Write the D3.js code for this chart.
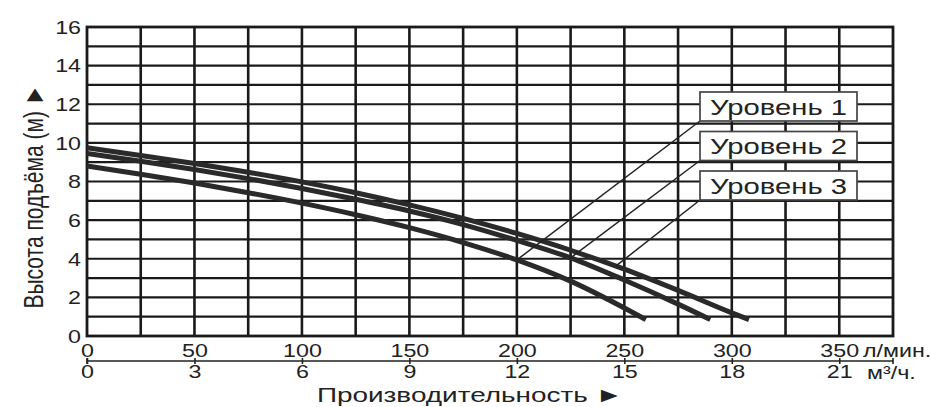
<!DOCTYPE html>
<html>
<head>
<meta charset="utf-8">
<script src="https://cdn.jsdelivr.net/npm/d3@7"></script>
<style>
  body { margin: 0; background: #fff; }
  text { font-family: "Liberation Sans", Arial, sans-serif; fill: #222; }
</style>
</head>
<body>
<script>
// pump curves: flow in l/min, head in m
var flow1 = [0, 25, 50, 75, 100, 125, 150, 175, 200, 225, 250, 260];
var head1 = [8.8, 8.38, 7.92, 7.42, 6.88, 6.28, 5.61, 4.84, 3.94, 2.84, 1.45, 0.85];
var flow2 = [0, 25, 50, 75, 100, 125, 150, 175, 200, 225, 250, 275, 290];
var head2 = [9.45, 9.05, 8.62, 8.15, 7.64, 7.08, 6.47, 5.77, 4.95, 4.05, 2.9, 1.65, 0.85];
var flow3 = [0, 25, 50, 75, 100, 125, 150, 175, 200, 225, 250, 275, 300, 308];
var head3 = [9.75, 9.35, 8.93, 8.48, 7.98, 7.42, 6.79, 6.09, 5.31, 4.44, 3.46, 2.36, 1.2, 0.85];

var levelNames = ["Уровень 1", "Уровень 2", "Уровень 3"];
var leaderFlow = [200, 225, 246];   // where each label's leader meets its curve

var headTicks = [0, 2, 4, 6, 8, 10, 12, 14, 16];
var lpmTicks = [0, 50, 100, 150, 200, 250, 300, 350];
var m3hTicks = [0, 3, 6, 9, 12, 15, 18, 21];

var W = 931, H = 407;
var margin = {left: 87, top: 27, right: 38, bottom: 71};
var width = W - margin.left - margin.right,
    height = H - margin.top - margin.bottom;
var SX = 1.33; // the original artwork is stretched sideways

var svg = d3.select("body").append("svg")
    .attr("width", W)
    .attr("height", H);

var g = svg.append("g")
    .attr("transform", "translate(" + margin.left + "," + margin.top + ")");

//scales
var x = d3.scaleLinear().domain([0, 375]).range([0, width]);
var xm = d3.scaleLinear().domain([0, 22.5]).range([0, width]);
var y = d3.scaleLinear().domain([0, 16]).range([height, 0]);

//grid
g.append("g")
    .selectAll("line")
    .data(d3.range(1, 16))
    .enter().append("line")
    .attr("x1", 0).attr("x2", width)
    .attr("y1", function(d) { return y(d); })
    .attr("y2", function(d) { return y(d); })
    .attr("stroke", "#1a1a1a")
    .attr("stroke-width", 2.2);

g.append("g")
    .selectAll("line")
    .data(d3.range(25, 375, 25))
    .enter().append("line")
    .attr("y1", 0).attr("y2", height)
    .attr("x1", function(d) { return x(d); })
    .attr("x2", function(d) { return x(d); })
    .attr("stroke", "#1a1a1a")
    .attr("stroke-width", 2.6);

g.append("rect")
    .attr("width", width).attr("height", height)
    .attr("fill", "none")
    .attr("stroke", "#1a1a1a")
    .attr("stroke-width", 2.8);

//y labels
var yAxis = g.append("g")
    .call(d3.axisLeft(y).tickValues(headTicks).tickSize(0).tickPadding(0));
yAxis.select(".domain").remove();
yAxis.selectAll("text")
    .attr("x", -4.5)
    .attr("dy", "0.36em")
    .attr("transform", "scale(" + SX + ",1)")
    .style("font-size", "17.5px")
    .style("font-family", "Liberation Sans, Arial, sans-serif")
    .style("fill", "#222");

//l/min labels
var xAxis = g.append("g")
    .attr("transform", "translate(0," + height + ")")
    .call(d3.axisBottom(x).tickValues(lpmTicks).tickSize(0));
xAxis.select(".domain").remove();
xAxis.selectAll("text")
    .attr("y", 21)
    .attr("dy", null)
    .attr("transform", "scale(" + SX + ",1)")
    .style("font-size", "17.5px")
    .style("font-family", "Liberation Sans, Arial, sans-serif")
    .style("fill", "#222");

//m3/h axis
var mAxis = g.append("g")
    .attr("transform", "translate(0," + (height + 25) + ")")
    .call(d3.axisBottom(xm).tickValues(m3hTicks).tickSizeInner(3).tickSizeOuter(3));
mAxis.select(".domain")
    .attr("d", "M0,-3V3M0,0H" + width + "M" + width + ",-3V3")
    .attr("stroke", "#222")
    .attr("stroke-width", 1.6);
mAxis.selectAll(".tick line")
    .attr("y1", -3).attr("y2", 3)
    .attr("stroke", "#222")
    .attr("stroke-width", 1.6);
mAxis.selectAll("text")
    .attr("y", 17.5)
    .attr("dy", null)
    .attr("transform", "scale(" + SX + ",1)")
    .style("font-size", "17.5px")
    .style("font-family", "Liberation Sans, Arial, sans-serif")
    .style("fill", "#222");

//units
function stretchText(parent, px, py, str, size, anchor) {
    return parent.append("text")
        .attr("transform", "translate(" + px + "," + py + ") scale(" + SX + ",1)")
        .attr("text-anchor", anchor || "start")
        .style("font-size", size + "px")
        .text(str);
}
stretchText(svg, 863, 357, "л/мин.", 17.5);
stretchText(svg, 867, 378.5, "м³/ч.", 17.5);

//axis titles
stretchText(svg, 470, 401.5, "Производительность ►", 21, "middle");
svg.append("text")
    .attr("transform", "translate(42.5,196.5) scale(" + SX + ",1) rotate(-90)")
    .attr("text-anchor", "middle")
    .style("font-size", "21px")
    .text("Высота подъёма (м) ►");

//curves
var line = d3.line()
    .x(function(d) { return x(d[0]); })
    .y(function(d) { return y(d[1]); })
    .curve(d3.curveMonotoneX);

var flows = [flow1, flow2, flow3];
var heads = [head1, head2, head3];

flows.forEach(function(f, i) {
    var pts = f.map(function(v, j) { return [v, heads[i][j]]; });
    g.append("path")
        .datum(pts)
        .attr("fill", "none")
        .attr("stroke", "#2a2a2a")
        .attr("stroke-width", 5)
        .attr("d", line);
});

//labels with leader lines
var boxX = 700, boxTop = 92, boxStep = 39.5, boxW = 157, boxH = 29;

levelNames.forEach(function(name, i) {
    var hAt = d3.scaleLinear().domain(flows[i]).range(heads[i]);
    var fx = leaderFlow[i];
    var by = boxTop + i * boxStep;

    svg.append("line")
        .attr("x1", boxX).attr("y1", by + boxH)
        .attr("x2", margin.left + x(fx))
        .attr("y2", margin.top + y(hAt(fx)))
        .attr("stroke", "#222")
        .attr("stroke-width", 1.5);

    svg.append("rect")
        .attr("x", boxX).attr("y", by)
        .attr("width", boxW).attr("height", boxH)
        .attr("fill", "#fff")
        .attr("stroke", "#444")
        .attr("stroke-width", 1.7);

    stretchText(svg, boxX + 10, by + 22.5, name, 22);
});
</script>
</body>
</html>
